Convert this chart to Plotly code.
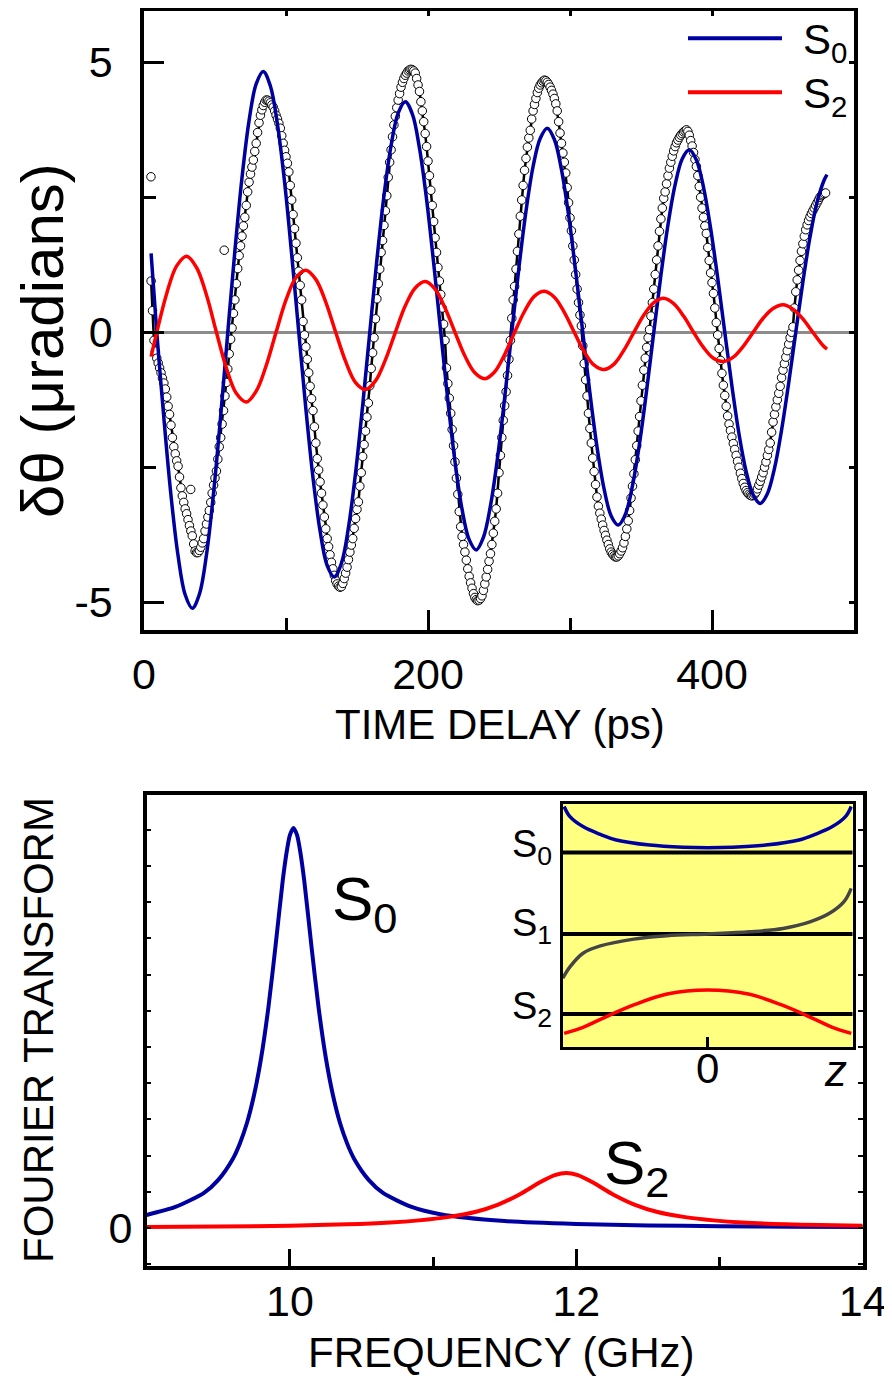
import plotly.graph_objects as go

# ---------------- top panel: time-domain data ----------------
data_t = list(range(5, 481))  # sampling grid (ps)
data_y = [
 0.95, 0.40, -0.15, -0.35, -0.48, -0.57, -0.66, -0.75, -0.85, -0.94,
 -1.05, -1.20, -1.37, -1.52, -1.72, -1.95, -2.12, -2.25, -2.38, -2.48,
 -2.68, -2.88, -3.03, -3.15, -3.27, -3.36, -3.47, -3.58, -3.68, -3.77,
 -3.92, -4.05, -4.08, -4.08, -4.04, -3.98, -3.90, -3.82, -3.68, -3.55,
 -3.42, -3.30, -3.15, -2.98, -2.83, -2.70, -2.57, -2.35, -2.12, -1.95,
 -1.70, -1.45, -1.18, -0.93, -0.68, -0.40, -0.13, 0.08, 0.35, 0.60,
 0.90, 1.18, 1.42, 1.60, 1.78, 1.97, 2.13, 2.35, 2.60, 2.78,
 2.93, 3.06, 3.19, 3.35, 3.50, 3.70, 3.88, 4.02, 4.12, 4.20,
 4.26, 4.30, 4.30, 4.28, 4.25, 4.21, 4.17, 4.10, 4.02, 3.95,
 3.87, 3.78, 3.64, 3.50, 3.37, 3.25, 3.13, 2.97, 2.72, 2.45,
 2.18, 1.92, 1.65, 1.38, 1.13, 0.87, 0.60, 0.20, -0.05, -0.27,
 -0.50, -0.75, -1.00, -1.23, -1.45, -1.75, -2.05, -2.34, -2.55, -2.77,
 -2.98, -3.20, -3.42, -3.64, -3.82, -3.97, -4.12, -4.26, -4.38, -4.50,
 -4.60, -4.66, -4.70, -4.72, -4.71, -4.65, -4.56, -4.46, -4.35, -4.21,
 -4.07, -3.94, -3.82, -3.63, -3.45, -3.28, -3.14, -2.85, -2.60, -2.30,
 -2.08, -1.83, -1.57, -1.31, -0.99, -0.67, -0.38, -0.10, 0.25, 0.62,
 0.90, 1.17, 1.48, 1.70, 1.98, 2.25, 2.53, 2.87, 3.15, 3.38,
 3.62, 3.84, 4.00, 4.16, 4.30, 4.42, 4.54, 4.63, 4.70, 4.76,
 4.80, 4.84, 4.86, 4.87, 4.86, 4.84, 4.80, 4.70, 4.58, 4.46,
 4.27, 4.10, 3.90, 3.68, 3.44, 3.17, 2.90, 2.63, 2.35, 2.05,
 1.75, 1.48, 1.20, 0.95, 0.70, 0.45, 0.15, -0.15, -0.66, -0.95,
 -1.22, -1.50, -1.80, -2.10, -2.40, -2.70, -3.00, -3.32, -3.60, -3.78,
 -3.93, -4.07, -4.22, -4.38, -4.52, -4.64, -4.74, -4.84, -4.91, -4.95,
 -4.97, -4.96, -4.93, -4.88, -4.78, -4.66, -4.53, -4.39, -4.24, -4.10,
 -3.93, -3.72, -3.50, -3.27, -2.98, -2.60, -2.28, -1.95, -1.63, -1.36,
 -1.10, -0.80, -0.50, -0.15, 0.26, 0.60, 0.85, 1.17, 1.50, 1.82,
 2.15, 2.45, 2.72, 3.00, 3.22, 3.43, 3.60, 3.74, 3.95, 4.10,
 4.22, 4.33, 4.44, 4.52, 4.58, 4.62, 4.65, 4.67, 4.66, 4.63,
 4.59, 4.54, 4.48, 4.41, 4.33, 4.23, 4.10, 3.90, 3.69, 3.50,
 3.32, 3.15, 2.95, 2.68, 2.40, 2.12, 1.88, 1.60, 1.34, 1.07,
 0.80, 0.55, 0.32, 0.12, -0.25, -0.58, -0.88, -1.18, -1.50, -1.78,
 -2.05, -2.33, -2.58, -2.82, -3.05, -3.22, -3.35, -3.46, -3.57, -3.67,
 -3.76, -3.85, -3.93, -4.01, -4.07, -4.11, -4.14, -4.16, -4.16, -4.14,
 -4.10, -4.05, -3.99, -3.90, -3.78, -3.64, -3.49, -3.30, -3.07, -2.85,
 -2.62, -2.36, -2.10, -1.83, -1.56, -1.27, -0.98, -0.70, -0.48, -0.28,
 -0.10, 0.05, 0.30, 0.55, 0.80, 1.07, 1.34, 1.60, 1.87, 2.10,
 2.30, 2.48, 2.60, 2.75, 2.90, 3.04, 3.15, 3.26, 3.36, 3.44,
 3.51, 3.56, 3.61, 3.65, 3.68, 3.71, 3.73, 3.75, 3.72, 3.65,
 3.55, 3.45, 3.33, 3.20, 3.07, 2.90, 2.70, 2.50, 2.30, 2.13,
 1.97, 1.83, 1.57, 1.33, 1.10, 0.92, 0.72, 0.45, 0.18, -0.05,
 -0.30, -0.52, -0.76, -0.98, -1.17, -1.37, -1.55, -1.70, -1.82, -1.94,
 -2.06, -2.17, -2.28, -2.39, -2.50, -2.61, -2.71, -2.80, -2.87, -2.93,
 -2.97, -3.00, -3.02, -3.03, -3.02, -3.00, -2.96, -2.90, -2.83, -2.76,
 -2.68, -2.60, -2.50, -2.40, -2.28, -2.17, -2.05, -1.85, -1.66, -1.52,
 -1.38, -1.25, -1.13, -1.00, -0.84, -0.70, -0.58, -0.46, -0.34, -0.22,
 -0.10, 0.00, 0.10, 0.45, 0.75, 0.97, 1.15, 1.33, 1.50, 1.64,
 1.78, 1.90, 1.99, 2.07, 2.14, 2.20, 2.25, 2.30, 2.35, 2.40,
 2.45, 2.50, 2.53, 2.55, 2.57, 2.58,
]
outlier_t = [4.9, 32.9, 56.5]
outlier_y = [2.88, -2.91, 1.52]

s0_t = [5, 9, 14, 19, 24, 29, 34, 39, 44, 49, 54, 59, 64, 69, 74, 79, 84, 89, 94, 99,
        104, 109, 114, 119, 124, 129, 134, 139, 144, 149, 154, 159, 164, 169, 174, 179,
        184, 189, 194, 199, 204, 209, 214, 219, 224, 229, 234, 239, 244, 249, 254, 259,
        264, 269, 274, 279, 284, 289, 294, 299, 304, 309, 314, 319, 324, 329, 334, 339,
        344, 349, 354, 359, 364, 369, 374, 379, 384, 389, 394, 399, 404, 409, 414, 419,
        424, 429, 434, 439, 444, 449, 454, 459, 464, 469, 474, 479, 481]
s0_y = [1.46, 0.0, -1.59, -3.02, -4.14, -4.86, -5.11, -4.85, -4.12, -2.97, -1.55, 0.0,
        1.51, 2.86, 3.92, 4.6, 4.83, 4.56, 3.85, 2.78, 1.44, 0.0, -1.42, -2.69, -3.68,
        -4.32, -4.53, -4.28, -3.61, -2.6, -1.35, 0.0, 1.34, 2.53, 3.46, 4.06, 4.27, 4.04,
        3.41, 2.46, 1.28, 0.0, -1.27, -2.39, -3.28, -3.84, -4.03, -3.8, -3.21, -2.32,
        -1.21, 0.0, 1.19, 2.24, 3.07, 3.59, 3.78, 3.57, 3.01, 2.17, 1.13, 0.0, -1.12,
        -2.12, -2.9, -3.4, -3.57, -3.37, -2.84, -2.05, -1.07, 0.0, 1.05, 1.99, 2.73,
        3.21, 3.38, 3.19, 2.69, 1.93, 1.01, 0.0, -0.99, -1.88, -2.57, -3.01, -3.17,
        -2.99, -2.52, -1.81, -0.94, 0.0, 0.93, 1.76, 2.41, 2.82, 2.92]

s2_t = [5, 9, 16, 23, 30, 37, 44, 51, 58, 65, 72, 79, 86, 93, 100, 107, 114, 121, 128,
        135, 142, 149, 156, 163, 170, 177, 184, 191, 198, 205, 212, 219, 226, 233, 240,
        247, 254, 261, 268, 275, 282, 289, 296, 303, 310, 317, 324, 331, 338, 345, 352,
        359, 366, 373, 380, 387, 394, 401, 408, 415, 422, 429, 436, 443, 450, 457, 464,
        471, 478, 481]
s2_y = [-0.45, 0.0, 0.72, 1.23, 1.41, 1.2, 0.69, 0.0, -0.66, -1.13, -1.29, -1.09, -0.62,
        0.0, 0.6, 1.01, 1.15, 0.98, 0.56, 0.0, -0.54, -0.93, -1.06, -0.9, -0.51, 0.0,
        0.49, 0.82, 0.94, 0.8, 0.45, 0.0, -0.44, -0.75, -0.86, -0.73, -0.41, 0.0, 0.39,
        0.67, 0.76, 0.65, 0.37, 0.0, -0.36, -0.61, -0.69, -0.59, -0.33, 0.0, 0.32, 0.55,
        0.63, 0.53, 0.3, 0.0, -0.28, -0.48, -0.54, -0.46, -0.26, 0.0, 0.26, 0.44, 0.51,
        0.43, 0.25, 0.0, -0.24, -0.31]

top_x_ticks = [0, 200, 400]
top_x_minor = [100, 300]
top_y_ticks = [-5, 0, 5]
top_y_ticktext = ['-5', '0', '5']
top_y_minor = [-2.5, 2.5]

# ---------------- bottom panel: Fourier transform ----------------
ft_s0_f = [9.0, 9.2, 9.4, 9.5, 9.6, 9.65, 9.7, 9.75, 9.8, 9.85, 9.9, 9.95, 9.98, 10.0,
           10.025, 10.05, 10.07, 10.1, 10.15, 10.2, 10.25, 10.3, 10.35, 10.4, 10.45,
           10.55, 10.65, 10.85, 11.05, 11.5, 12.0, 12.5, 13.0, 13.5, 14.0]
ft_s0 = [0.36, 0.58, 0.97, 1.33, 1.9, 2.33, 2.9, 3.68, 4.72, 6.1, 7.8, 9.6, 10.45, 10.85,
         11.05, 10.85, 10.45, 9.6, 7.8, 6.1, 4.72, 3.68, 2.9, 2.33, 1.9, 1.33, 0.97, 0.58,
         0.38, 0.19, 0.11, 0.07, 0.05, 0.035, 0.027]
ft_s2_f = [9.0, 9.5, 10.0, 10.4, 10.7, 10.9, 11.1, 11.3, 11.45, 11.6, 11.75, 11.85, 11.93,
           12.01, 12.11, 12.26, 12.41, 12.56, 12.76, 12.96, 13.16, 13.46, 13.7, 14.0]
ft_s2 = [0.03, 0.04, 0.065, 0.1, 0.15, 0.21, 0.3, 0.45, 0.64, 0.92, 1.27, 1.46, 1.52,
         1.46, 1.27, 0.92, 0.64, 0.45, 0.3, 0.21, 0.15, 0.1, 0.08, 0.06]

bot_x_ticks = [10, 12, 14]
bot_x_minor = [11, 13]
bot_y_ticks = [-1, 0, 1, 2, 3, 4, 5, 6, 7, 8, 9, 10, 11]
bot_y_ticktext = ['', '0', '', '', '', '', '', '', '', '', '', '', '']

# ---------------- inset: wavefunctions ----------------
level_z = [-1, 1]
level_s0 = [8.0, 8.0]
level_s1 = [4.65, 4.65]
level_s2 = [1.36, 1.36]
psi0_z = [-0.99, -0.95, -0.86, -0.74, -0.63, -0.4, -0.17, 0, 0.17, 0.4, 0.63, 0.74, 0.86, 0.95, 0.99]
psi0_v = [9.9, 9.48, 9.07, 8.75, 8.52, 8.31, 8.22, 8.2, 8.22, 8.31, 8.52, 8.75, 9.07, 9.48, 9.9]
psi1_z = [-1.0, -0.95, -0.86, -0.74, -0.51, -0.28, 0, 0.29, 0.52, 0.71, 0.84, 0.94, 0.99]
psi1_v = [2.83, 3.3, 3.86, 4.16, 4.44, 4.58, 4.65, 4.74, 4.88, 5.16, 5.5, 5.98, 6.53]
psi2_z = [-0.99, -0.86, -0.74, -0.51, -0.28, 0, 0.28, 0.51, 0.74, 0.86, 0.99]
psi2_v = [0.56, 0.81, 1.14, 1.73, 2.18, 2.35, 2.18, 1.73, 1.14, 0.81, 0.56]
inset_x_ticks = [0]
inset_x_ticktext = ['0']
inset_label_pos = [8.35, 5.1, 1.69]
inset_labels = ['S<sub>0</sub>', 'S<sub>1</sub>', 'S<sub>2</sub>']

BLUE = '#0000A0'
RED = '#FF0000'
# the page body has an 8 px margin: figure is sized/offset to compensate
OFF = 8
W, H = 892 - OFF, 1380 - OFF
FONT = 'Liberation Sans, Arial, Helvetica, sans-serif'


def px(x):
    return (x - OFF) / W


def py(y):
    return 1 - (y - OFF) / H


fig = go.Figure()

# top panel traces
fig.add_trace(go.Scatter(x=data_t, y=data_y, mode='lines+markers', xaxis='x', yaxis='y',
                         line=dict(color='black', width=2.5),
                         marker=dict(symbol='circle', size=8.5, color='white',
                                     line=dict(color='black', width=1))))
fig.add_trace(go.Scatter(x=outlier_t, y=outlier_y, mode='markers', xaxis='x', yaxis='y',
                         marker=dict(symbol='circle', size=8.5, color='white',
                                     line=dict(color='black', width=1))))
fig.add_trace(go.Scatter(x=s0_t, y=s0_y, mode='lines', xaxis='x', yaxis='y',
                         line=dict(color=BLUE, width=3.5, shape='spline', smoothing=1.0)))
fig.add_trace(go.Scatter(x=s2_t, y=s2_y, mode='lines', xaxis='x', yaxis='y',
                         line=dict(color=RED, width=3.5, shape='spline', smoothing=1.0)))
# helper (empty) trace for mirrored short ticks
fig.add_trace(go.Scatter(x=[None], y=[None], xaxis='x4', yaxis='y4', mode='lines',
                         hoverinfo='skip'))

# bottom panel traces
fig.add_trace(go.Scatter(x=ft_s0_f, y=ft_s0, mode='lines', xaxis='x2', yaxis='y2',
                         line=dict(color=BLUE, width=4, shape='spline', smoothing=0.7)))
fig.add_trace(go.Scatter(x=ft_s2_f, y=ft_s2, mode='lines', xaxis='x2', yaxis='y2',
                         line=dict(color=RED, width=4, shape='spline', smoothing=0.7)))

# inset traces
for lv in (level_s0, level_s1, level_s2):
    fig.add_trace(go.Scatter(x=level_z, y=lv, mode='lines', xaxis='x3', yaxis='y3',
                             line=dict(color='black', width=4)))
fig.add_trace(go.Scatter(x=psi0_z, y=psi0_v, mode='lines', xaxis='x3', yaxis='y3',
                         line=dict(color=BLUE, width=3.5, shape='spline')))
fig.add_trace(go.Scatter(x=psi1_z, y=psi1_v, mode='lines', xaxis='x3', yaxis='y3',
                         line=dict(color='#454545', width=3.5, shape='spline')))
fig.add_trace(go.Scatter(x=psi2_z, y=psi2_v, mode='lines', xaxis='x3', yaxis='y3',
                         line=dict(color=RED, width=3.5, shape='spline')))

axis_common = dict(showgrid=False, zeroline=False, showline=True, linecolor='black',
                   automargin=False, tickcolor='black', ticks='inside')

fig.update_layout(
    width=W, height=H, margin=dict(l=0, r=0, t=0, b=0), template='none',
    paper_bgcolor='white', plot_bgcolor='rgba(0,0,0,0)', showlegend=False,
    font=dict(family=FONT, color='black'),
    xaxis=dict(**axis_common, domain=[px(144), px(854)], range=[0, 500], anchor='y',
               linewidth=3.5, mirror=True, tickvals=top_x_ticks, ticklen=20, tickwidth=3,
               minor=dict(tickvals=top_x_minor, ticklen=12, tickwidth=3, ticks='inside',
                          tickcolor='black'),
               tickfont=dict(size=43), ticklabelstandoff=4),
    yaxis=dict(showgrid=False, showline=True, linecolor='black', automargin=False,
               tickcolor='black', ticks='inside',
               domain=[py(630), py(11)], range=[-5.513, 5.95], anchor='x',
               linewidth=3.5, mirror=True, tickvals=top_y_ticks, ticktext=top_y_ticktext,
               ticklen=20, tickwidth=3,
               minor=dict(tickvals=top_y_minor, ticklen=12, tickwidth=3, ticks='inside',
                          tickcolor='black'),
               zeroline=True, zerolinecolor='#8c8c8c', zerolinewidth=2.5,
               tickfont=dict(size=43), ticklabelstandoff=19),
    xaxis4=dict(showgrid=False, zeroline=False, showline=False, overlaying='x', side='top',
                anchor='y4', range=[0, 500], tickvals=[100, 200, 300, 400], ticks='inside',
                ticklen=5, tickwidth=2.5, tickcolor='black', showticklabels=False),
    yaxis4=dict(showgrid=False, zeroline=False, showline=False, overlaying='y', side='right',
                anchor='x4', range=[-5.513, 5.95], tickvals=[-5, -2.5, 0, 2.5, 5],
                ticks='inside', ticklen=5, tickwidth=2.5, tickcolor='black',
                showticklabels=False),
    xaxis2=dict(**axis_common, domain=[px(146.7), px(862.7)], range=[9, 14], anchor='y2',
                linewidth=3.5, mirror=True, tickvals=bot_x_ticks, ticklen=17, tickwidth=3,
                minor=dict(tickvals=bot_x_minor, ticklen=9, tickwidth=3, ticks='inside',
                           tickcolor='black'),
                tickfont=dict(size=43), ticklabelstandoff=-5),
    yaxis2=dict(**axis_common, domain=[py(1266), py(795)], range=[-1.05, 11.96], anchor='x2',
                linewidth=3.5, mirror='ticks', tickvals=bot_y_ticks, ticktext=bot_y_ticktext,
                ticklen=5, tickwidth=2, tickfont=dict(size=43), ticklabelstandoff=2),
    xaxis3=dict(**axis_common, domain=[px(562.7), px(852.7)], range=[-1, 1], anchor='y3',
                linewidth=3, mirror=True, tickvals=inset_x_ticks, ticktext=inset_x_ticktext,
                ticklen=10, tickwidth=3, tickfont=dict(size=42), ticklabelstandoff=-17),
    yaxis3=dict(showgrid=False, zeroline=False, showline=True, linecolor='black',
                automargin=False, domain=[py(1047), py(804)], range=[0, 10], anchor='x3',
                linewidth=3, mirror=True, ticks='', tickvals=inset_label_pos,
                ticktext=inset_labels, tickfont=dict(size=38), ticklabelstandoff=0),
)

fig.add_shape(type='rect', xref='x3 domain', yref='y3 domain', x0=0, x1=1, y0=0, y1=1,
              fillcolor='#FFFF80', line=dict(width=0), layer='below')

# manual legend
fig.add_shape(type='line', xref='paper', yref='paper', x0=px(688), x1=px(782),
              y0=py(38.3), y1=py(38.3), line=dict(color=BLUE, width=4))
fig.add_shape(type='line', xref='paper', yref='paper', x0=px(688), x1=px(782),
              y0=py(92.3), y1=py(92.3), line=dict(color=RED, width=4))

ann = [
    dict(text='S<sub>0</sub>', x=px(801), y=py(43), size=42, xanchor='left'),
    dict(text='S<sub>2</sub>', x=px(801), y=py(97), size=42, xanchor='left'),
    dict(text='δθ (μradians)', x=px(43), y=py(341), size=60, textangle=-90),
    dict(text='TIME DELAY (ps)', x=px(500), y=py(724), size=42),
    dict(text='FOURIER TRANSFORM', x=px(38), y=py(1030), size=42, textangle=-90),
    dict(text='FREQUENCY (GHz)', x=px(501.5), y=py(1352), size=42),
    dict(text='S<sub>0</sub>', x=px(330), y=py(903), size=62, xanchor='left'),
    dict(text='S<sub>2</sub>', x=px(602), y=py(1167), size=62, xanchor='left'),
    dict(text='<i>z</i>', x=px(835), y=py(1070), size=44),
]
for a in ann:
    fig.add_annotation(text=a['text'], x=a['x'], y=a['y'], xref='paper', yref='paper',
                       showarrow=False, xanchor=a.get('xanchor', 'center'), yanchor='middle',
                       textangle=a.get('textangle', 0),
                       font=dict(size=a['size'], family=FONT, color='black'))

fig.write_html('out.html')
